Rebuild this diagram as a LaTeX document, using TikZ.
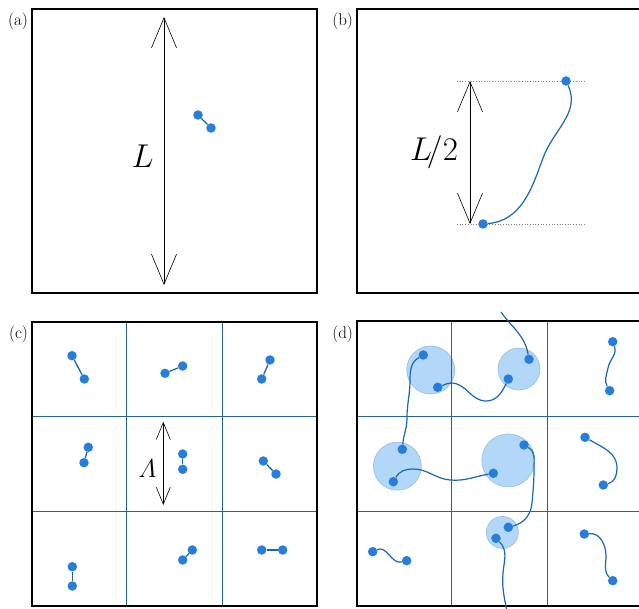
\RequirePackage{fix-cm}
\documentclass[tikz,border=0pt]{standalone}
\usepackage{amsmath}
\usetikzlibrary{positioning, arrows.meta}
\definecolor{BeadBlue}{RGB}{38,125,218}
\definecolor{ChainBlue}{RGB}{22,104,178}
\definecolor{GridBlue}{RGB}{36,98,158}
\definecolor{BlobBlue}{RGB}{178,215,248}
\definecolor{BlobEdge}{RGB}{150,188,222}

\begin{document}
\begin{tikzpicture}[x=1pt, y=1pt,
  panel/.style={rectangle, draw=black, line width=1.6pt, inner sep=0pt},
  tag/.style={inner sep=0pt, font=\fontsize{17}{19}\selectfont},
  bead/.style={circle, fill=BeadBlue, inner sep=0pt, minimum size=9.5pt},
  bond/.style={ChainBlue, line width=1.3pt},
  chain/.style={ChainBlue, line width=1.2pt},
  blob/.style={circle, fill=BlobBlue, draw=BlobEdge, line width=0.6pt, inner sep=0pt},
  cell/.style={GridBlue, line width=0.8pt},
  measure/.style={black, line width=0.6pt, arrows={Straight Barb[length=30pt,width=25pt]-Straight Barb[length=30pt,width=25pt]}},
  small measure/.style={black, line width=0.6pt, arrows={Straight Barb[length=17pt,width=14pt]-Straight Barb[length=17pt,width=14pt]}},
  guide/.style={gray, dotted, line width=0.7pt},
  big/.style={inner sep=0pt, font=\fontsize{33}{36}\selectfont}
]
    \useasboundingbox (0,0) rectangle (639,608);
    \clip (0,0) rectangle (639,608);

    % blobs of panel (d) sit under the cell lines
    \node[blob, minimum size=48pt] (blobA) at (430.7,238) {};
    \node[blob, minimum size=42pt] (blobB) at (519,239) {};
    \node[blob, minimum size=48pt] (blobC) at (397.4,141.8) {};
    \node[blob, minimum size=53pt] (blobD) at (508.3,147.6) {};
    \node[blob, minimum size=32pt] (blobE) at (502.4,75.6) {};

    \draw[cell] (126.7,2) -- (126.7,286);
    \draw[cell] (222.3,2) -- (222.3,286);
    \draw[cell] (32,192) -- (317,192);
    \draw[cell] (32,97) -- (317,97);
    \draw[cell] (451.7,2) -- (451.7,287);
    \draw[cell] (547.3,2) -- (547.3,287);
    \draw[cell] (357,192) -- (645,192);
    \draw[cell] (357,97) -- (645,97);

    \node[panel, minimum width=285pt, minimum height=284pt] (pa) at (174.5,457) {};
    \node[panel, minimum width=288pt, minimum height=284pt] (pb) at (501,457) {};
    \node[panel, minimum width=285pt, minimum height=284pt] (pc) at (174.5,144) {};
    \node[panel, minimum width=288pt, minimum height=285pt] (pd) at (501,144.5) {};

    \node[tag, below left=4pt and 3pt of pa.north west] {(a)};
    \node[tag, below left=4pt and 3pt of pb.north west] {(b)};
    \node[tag, below left=4pt and 3pt of pc.north west] {(c)};
    \node[tag, below left=5pt and 3pt of pd.north west] {(d)};

    % (a)
    \coordinate (aTop) at (164,591);
    \coordinate (aBot) at (164,323);
    \draw[measure] (aBot) -- (aTop);
    \node[big] (sizeL) at (142.7,452) {$L$};
    \node[bead] (a1) at (198,493) {};
    \node[bead] (a2) at (211,480) {};
    \draw[bond] (a1) -- (a2);

    % (b)
    \coordinate (gTopL) at (457,527);
    \coordinate (gTopR) at (584,527);
    \coordinate (gBotL) at (457,384);
    \coordinate (gBotR) at (584,384);
    \draw[guide] (gTopL) -- (gTopR);
    \draw[guide] (gBotL) -- (gBotR);
    \coordinate (hTop) at (470,527);
    \coordinate (hBot) at (470,384);
    \draw[measure] (hBot) -- (hTop);
    \node[big] (halfL) at (434,456) {$L\!/2$};
    \node[bead] (bBot) at (483,384) {};
    \node[bead] (bTop) at (566,527) {};
    \draw[chain] (bBot) to[out=5,in=-110] (543,450) to[out=70,in=-65] (bTop);

    % (c)
    \coordinate (lamTop) at (163.3,186.3);
    \coordinate (lamBot) at (163.3,103);
    \draw[small measure] (lamBot) -- (lamTop);
    \node[inner sep=0pt, font=\fontsize{26}{28}\selectfont] (lam) at (147.5,139.5) {$\varLambda$};
    \node[bead] (c1a) at (72,252.3) {};
    \node[bead] (c1b) at (84.3,229) {};
    \node[bead] (c2a) at (165,234.7) {};
    \node[bead] (c2b) at (182.7,242) {};
    \node[bead] (c3a) at (270,248) {};
    \node[bead] (c3b) at (261.7,229) {};
    \node[bead] (c4a) at (88.3,160.7) {};
    \node[bead] (c4b) at (84,145.3) {};
    \node[bead] (c5a) at (182.7,154) {};
    \node[bead] (c5b) at (182.7,138.7) {};
    \node[bead] (c6a) at (263.3,147) {};
    \node[bead] (c6b) at (276,134) {};
    \node[bead] (c7a) at (72.3,41.3) {};
    \node[bead] (c7b) at (72.3,22) {};
    \node[bead] (c8a) at (192.3,58) {};
    \node[bead] (c8b) at (182.7,48) {};
    \node[bead] (c9a) at (261.7,58) {};
    \node[bead] (c9b) at (282.7,58) {};
    \draw[bond] (c1a) -- (c1b);
    \draw[bond] (c2a) -- (c2b);
    \draw[bond] (c3a) -- (c3b);
    \draw[bond] (c4a) -- (c4b);
    \draw[bond] (c5a) -- (c5b);
    \draw[bond] (c6a) -- (c6b);
    \draw[bond] (c7a) -- (c7b);
    \draw[bond] (c8a) -- (c8b);
    \draw[bond] (c9a) -- (c9b);

    % (d)
    \node[bead] (d1) at (423.3,253) {};
    \node[bead] (d2) at (437.7,220.7) {};
    \node[bead] (d3) at (508.3,229) {};
    \node[bead] (d4) at (529,248.7) {};
    \node[bead] (d5) at (402.3,158.7) {};
    \node[bead] (d6) at (393.3,126.3) {};
    \node[bead] (d7) at (493.3,134.7) {};
    \node[bead] (d8) at (524,163) {};
    \node[bead] (d9) at (508.3,80.7) {};
    \node[bead] (d10) at (496,69.7) {};
    \coordinate (dTop) at (501,296);
    \coordinate (dBot) at (507,-4);
    \draw[chain] (d4) to[out=100,in=-55] (dTop);
    \draw[chain] (d2) to[out=20,in=180] (451,225) to[out=0,in=180] (486,207) to[out=0,in=-115] (d3);
    \draw[chain] (d1) to[out=210,in=90] (410,228) to[out=-90,in=90] (407,190) to[out=-90,in=85] (d5);
    \draw[chain] (d6) to[out=60,in=180] (413,139) to[out=0,in=175] (450,128) to[out=-5,in=190] (d7);
    \draw[chain] (d8) to[out=-30,in=90] (534,140) to[out=-90,in=85] (532,105) to[out=-95,in=15] (d9);
    \draw[chain] (d10) to[out=-45,in=85] (503,35) to[out=-95,in=100] (dBot);

    \node[bead] (e1) at (612.7,266.3) {};
    \node[bead] (e2) at (609.7,217.3) {};
    \node[bead] (f1) at (585,170.7) {};
    \node[bead] (f2) at (603.3,123) {};
    \node[bead] (g1) at (584.3,74) {};
    \node[bead] (g2) at (612.7,27.3) {};
    \node[bead] (h1) at (372.7,56.3) {};
    \node[bead] (h2) at (406.7,47.3) {};
    \draw[chain] (e1) to[out=-70,in=80] (608,240) to[out=-100,in=120] (e2);
    \draw[chain] (f1) to[out=-30,in=90] (617,140) to[out=-90,in=15] (f2);
    \draw[chain] (g1) to[out=5,in=90] (606,52) to[out=-90,in=135] (g2);
    \draw[chain] (h1) to[out=25,in=195] (h2);
\end{tikzpicture}
\end{document}
